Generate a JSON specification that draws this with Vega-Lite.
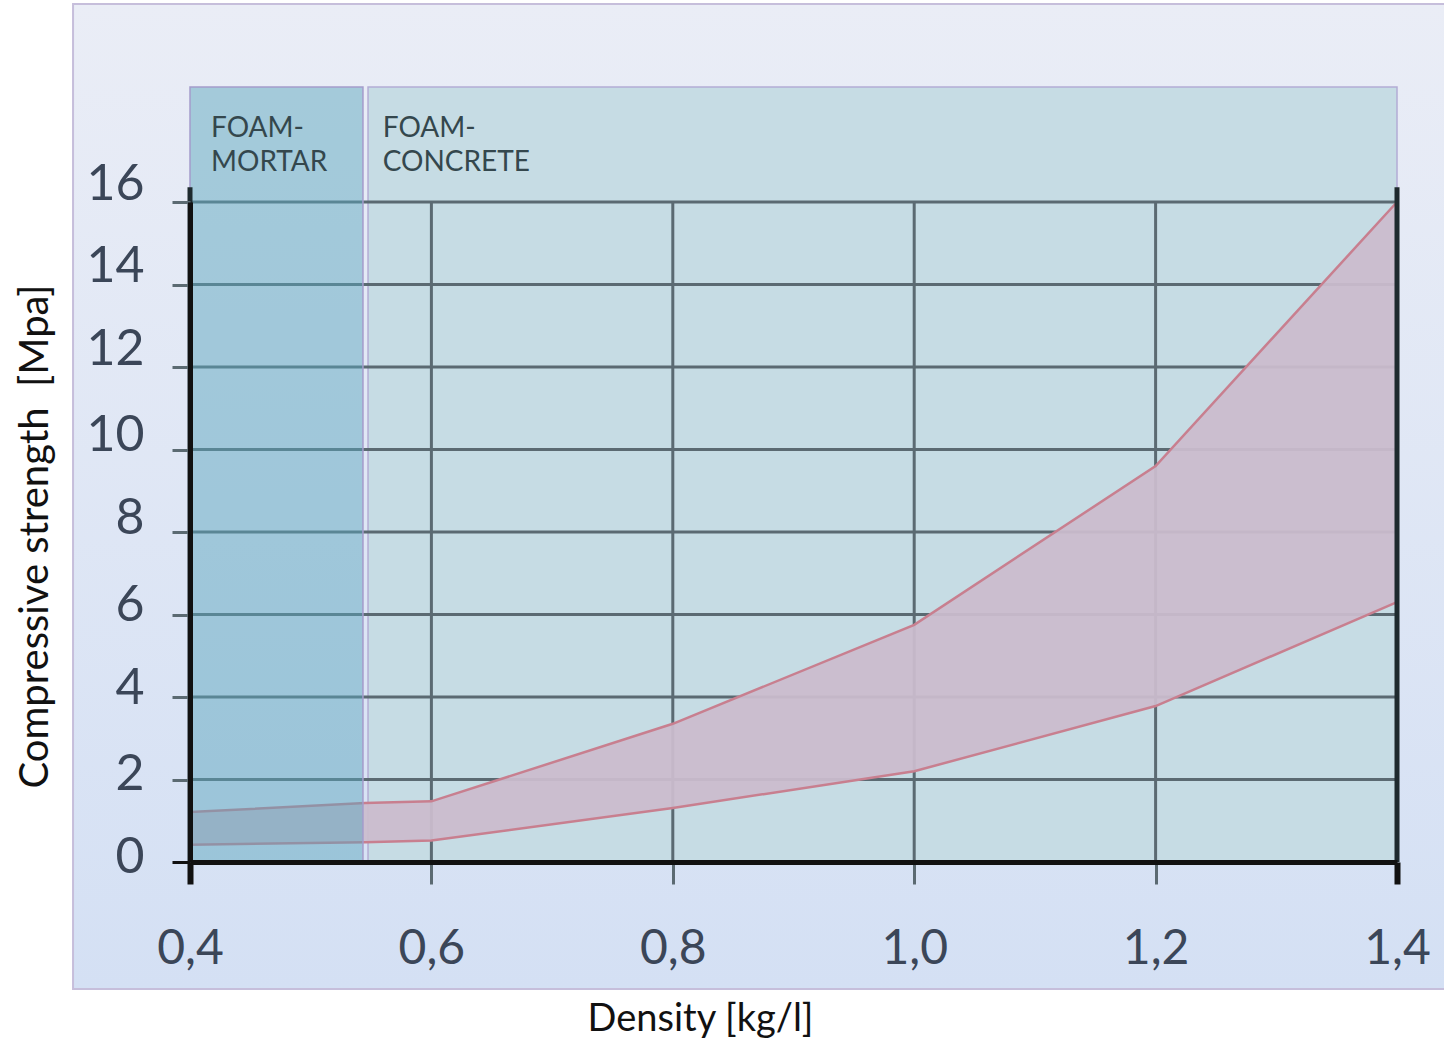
{
  "$schema": "https://vega.github.io/schema/vega-lite/v6.json",
  "width": 1207,
  "height": 660,
  "autosize": {"type": "none"},
  "padding": {"left": 190, "top": 202, "right": 47, "bottom": 183},
  "background": "white",
  "config": {"view": {"stroke": null}, "font": "Lato"},
  "datasets": {
    "panel": [{"x0": 0.3031, "x1": 1.46, "y0": -3.08, "y1": 20.8}],
    "concrete": [{"zone": "FOAM-CONCRETE", "x0": 0.5475, "x1": 1.4, "y0": 0, "y1": 18.79}],
    "mortar": [{"zone": "FOAM-MORTAR", "x0": 0.4, "x1": 0.5433, "y0": 0, "y1": 18.79}],
    "labels": [
      {"zone": "FOAM-MORTAR", "lx": 0.4174, "ly": 18.1, "label": ["FOAM-", "MORTAR"]},
      {"zone": "FOAM-CONCRETE", "lx": 0.5597, "ly": 18.1, "label": ["FOAM-", "CONCRETE"]}
    ],
    "ygrid": [{"y": 2}, {"y": 4}, {"y": 6}, {"y": 8}, {"y": 10}, {"y": 12}, {"y": 14}, {"y": 16}],
    "xgrid": [{"x": 0.6}, {"x": 0.8}, {"x": 1.0}, {"x": 1.2}],
    "edges": [{"x": 0.4, "y": 0, "y2": 16.36}, {"x": 1.4, "y": 0, "y2": 16.36}],
    "band": [
      {"density": 0.4, "low": 0.42, "high": 1.21},
      {"density": 0.545, "low": 0.48, "high": 1.43},
      {"density": 0.6, "low": 0.52, "high": 1.47},
      {"density": 0.8, "low": 1.31, "high": 3.35},
      {"density": 1.0, "low": 2.2, "high": 5.75},
      {"density": 1.2, "low": 3.78, "high": 9.6},
      {"density": 1.4, "low": 6.3, "high": 16.0}
    ]
  },
  "layer": [
    {
      "data": {"name": "panel"},
      "mark": {
        "type": "rect",
        "fill": {"gradient": "linear", "x1": 0, "y1": 0, "x2": 0, "y2": 1,
          "stops": [{"offset": 0, "color": "#eaedf6"}, {"offset": 1, "color": "#d4e0f4"}]},
        "stroke": "#c6bedb",
        "strokeWidth": 2
      },
      "encoding": {
        "x": {
          "field": "x0", "type": "quantitative",
          "scale": {"domain": [0.4, 1.4], "nice": false, "zero": false},
          "axis": {
            "title": "Density [kg/l]",
            "values": [0.4, 0.6, 0.8, 1.0, 1.2, 1.4],
            "labelExpr": "replace(format(datum.value, '.1f'), '.', ',')",
            "grid": false,
            "zindex": 1,
            "domainColor": "#111111",
            "domainWidth": 5,
            "tickSize": 22,
            "tickColor": {"condition": {"test": "datum.value == 0.4 || datum.value == 1.4", "value": "#111111"}, "value": "#5b6a72"},
            "tickWidth": {"condition": {"test": "datum.value == 0.4 || datum.value == 1.4", "value": 6}, "value": 3},
            "labelFontSize": 48,
            "labelColor": "#3b4658",
            "labelPadding": 41,
            "labelFlush": false,
            "titleFontSize": 38,
            "titleFontWeight": "normal",
            "titleColor": "#111111",
            "titleX": 510,
            "titleY": 138,
            "titleAlign": "center",
            "titleBaseline": "top",
            "titleAnchor": null
          }
        },
        "x2": {"field": "x1"},
        "y": {
          "field": "y0", "type": "quantitative",
          "scale": {"domain": [0, 16], "nice": false, "zero": false},
          "axis": {
            "title": "Compressive strength\u00a0\u00a0[Mpa]",
            "values": [0, 2, 4, 6, 8, 10, 12, 14, 16],
            "grid": false,
            "zindex": 1,
            "domainColor": "#111111",
            "domainWidth": 5,
            "tickSize": 18,
            "tickColor": {"condition": {"test": "datum.value == 0", "value": "#111111"}, "value": "#5b6a72"},
            "tickWidth": 3,
            "labelFontSize": 50,
            "labelColor": "#3b4658",
            "labelPadding": 28,
            "labelFlush": false,
            "labelOffset": {"condition": [
              {"test": "datum.value >= 12", "value": -18},
              {"test": "datum.value >= 8", "value": -14},
              {"test": "datum.value >= 4", "value": -9}
            ], "value": -5},
            "titleFontSize": 40,
            "titleFontWeight": "normal",
            "titleColor": "#111111",
            "titleX": -155,
            "titleY": 334,
            "titleAlign": "center",
            "titleBaseline": "middle",
            "titleAnchor": null
          }
        },
        "y2": {"field": "y1"}
      }
    },
    {
      "data": {"name": "concrete"},
      "mark": {"type": "rect", "fill": "#c6dce4", "stroke": "#b3acd5", "strokeWidth": 1.5},
      "encoding": {
        "x": {"field": "x0", "type": "quantitative"},
        "x2": {"field": "x1"},
        "y": {"field": "y0", "type": "quantitative"},
        "y2": {"field": "y1"}
      }
    },
    {
      "data": {"name": "ygrid"},
      "mark": {"type": "rule", "stroke": "#5b6a72", "strokeWidth": 3},
      "encoding": {"y": {"field": "y", "type": "quantitative"}}
    },
    {
      "data": {"name": "xgrid"},
      "mark": {"type": "rule", "stroke": "#5b6a72", "strokeWidth": 3},
      "encoding": {"x": {"field": "x", "type": "quantitative"}}
    },
    {
      "data": {"name": "band"},
      "mark": {"type": "area", "fill": "#cbbccd", "opacity": 0.94},
      "encoding": {
        "x": {"field": "density", "type": "quantitative"},
        "y": {"field": "low", "type": "quantitative"},
        "y2": {"field": "high"}
      }
    },
    {
      "data": {"name": "band"},
      "mark": {"type": "line", "stroke": "#c87f8f", "strokeWidth": 2.5},
      "encoding": {
        "x": {"field": "density", "type": "quantitative"},
        "y": {"field": "high", "type": "quantitative"}
      }
    },
    {
      "data": {"name": "band"},
      "mark": {"type": "line", "stroke": "#c87f8f", "strokeWidth": 2.5},
      "encoding": {
        "x": {"field": "density", "type": "quantitative"},
        "y": {"field": "low", "type": "quantitative"}
      }
    },
    {
      "data": {"name": "mortar"},
      "mark": {"type": "rect", "fill": "#5aa6bc", "fillOpacity": 0.48, "stroke": "#a49ccc", "strokeWidth": 1.5},
      "encoding": {
        "x": {"field": "x0", "type": "quantitative"},
        "x2": {"field": "x1"},
        "y": {"field": "y0", "type": "quantitative"},
        "y2": {"field": "y1"}
      }
    },
    {
      "data": {"name": "edges"},
      "mark": {"type": "rule", "stroke": "#1e2a2e", "strokeWidth": 5},
      "encoding": {
        "x": {"field": "x", "type": "quantitative"},
        "y": {"field": "y", "type": "quantitative"},
        "y2": {"field": "y2"}
      }
    },
    {
      "data": {"name": "labels"},
      "mark": {"type": "text", "align": "left", "baseline": "top", "fontSize": 28, "lineHeight": 34, "color": "#34474d"},
      "encoding": {
        "x": {"field": "lx", "type": "quantitative"},
        "y": {"field": "ly", "type": "quantitative"},
        "text": {"field": "label"}
      }
    }
  ]
}
